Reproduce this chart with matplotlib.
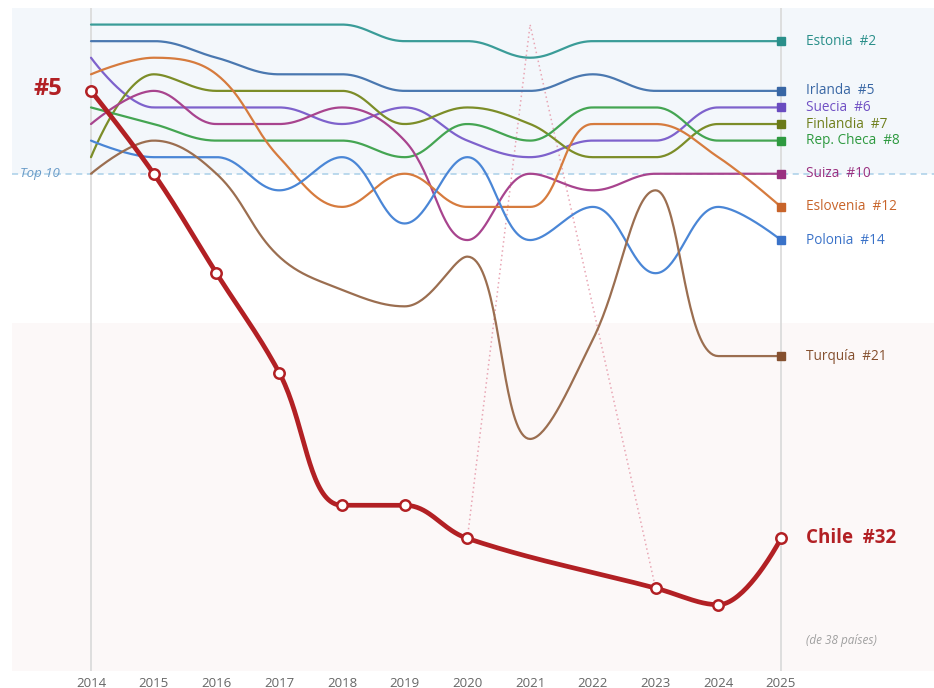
import numpy as np
import matplotlib
matplotlib.use("Agg")
import matplotlib.pyplot as plt

plt.rcParams['font.family'] = ['Open Sans', 'DejaVu Sans']

years = [2014, 2015, 2016, 2017, 2018, 2019, 2020, 2021, 2022, 2023, 2024, 2025]

estonia   = [1, 1, 1, 1, 1, 2, 2, 3, 2, 2, 2, 2]
irlanda   = [2, 2, 3, 4, 4, 5, 5, 5, 4, 5, 5, 5]
suecia    = [3, 6, 6, 6, 7, 6, 8, 9, 8, 8, 6, 6]
finlandia = [9, 4, 5, 5, 5, 7, 6, 7, 9, 9, 7, 7]
checa     = [6, 7, 8, 8, 8, 9, 7, 8, 6, 6, 8, 8]
suiza     = [7, 5, 7, 7, 6, 8, 14, 10, 11, 10, 10, 10]
eslovenia = [4, 3, 4, 9, 12, 10, 12, 12, 7, 7, 9, 12]
polonia   = [8, 9, 9, 11, 9, 13, 9, 14, 12, 16, 12, 14]
turquia   = [10, 8, 10, 15, 17, 18, 15, 26, 20, 11, 21, 21]
chile     = [5, 10, 16, 22, 30, 30, 32, None, None, 35, 36, 32]

dotted_years = [2020, 2021, 2023]
dotted_ranks = [32, 1, 35]

countries = [
    ("Estonia", estonia, "#3a9c98", "#2a8f8a", "#2a8f8a"),
    ("Irlanda", irlanda, "#4a78b0", "#3866a4", "#3866a4"),
    ("Suecia", suecia, "#7e62cc", "#6a4cc0", "#7050c4"),
    ("Finlandia", finlandia, "#7c8d28", "#6a7a18", "#6f7f1c"),
    ("Rep. Checa", checa, "#44a552", "#2e9a40", "#2e9a40"),
    ("Suiza", suiza, "#a8448e", "#9a3080", "#9a3080"),
    ("Eslovenia", eslovenia, "#d67b3e", "#c8642a", "#c8642a"),
    ("Polonia", polonia, "#4a86d6", "#3a72c8", "#3a72c8"),
    ("Turquía", turquia, "#9b6e50", "#85502f", "#85502f"),
]

PX_X = 62.727   # pixels per year
PX_Y = 16.575   # pixels per rank


def smooth_curve(xd, yd, smooth=0.38, n=40):
    """ECharts-like bezier smoothing computed in pixel space."""
    P = [(x * PX_X, y * PX_Y) for x, y in zip(xd, yd)]
    N = len(P)
    segs = []
    cp0 = P[0]
    for i in range(1, N):
        x, y = P[i]
        px, py = P[i - 1]
        if i == N - 1:
            cp1 = (x, y)
            ncp0 = None
        else:
            nx, ny = P[i + 1]
            vx, vy = nx - px, ny - py
            dx0, dy0 = x - px, y - py
            dx1, dy1 = nx - x, ny - y
            lp = np.hypot(dx0, dy0)
            ln = np.hypot(dx1, dy1)
            r = ln / (ln + lp)
            ncx = x + vx * smooth * r
            ncy = y + vy * smooth * r
            ncx = max(min(ncx, max(nx, x)), min(nx, x))
            ncy = max(min(ncy, max(ny, y)), min(ny, y))
            vx, vy = ncx - x, ncy - y
            c1x = x - vx * lp / ln
            c1y = y - vy * lp / ln
            c1x = max(min(c1x, max(px, x)), min(px, x))
            c1y = max(min(c1y, max(py, y)), min(py, y))
            vx, vy = x - c1x, y - c1y
            ncx = x + vx * ln / lp
            ncy = y + vy * ln / lp
            cp1 = (c1x, c1y)
            ncp0 = (ncx, ncy)
        t = np.linspace(0, 1, n)[:, None]
        p0 = np.array(P[i - 1]); a = np.array(cp0); b = np.array(cp1); p3 = np.array(P[i])
        pts = ((1 - t) ** 3) * p0 + 3 * ((1 - t) ** 2) * t * a + 3 * (1 - t) * t ** 2 * b + t ** 3 * p3
        segs.append(pts)
        cp0 = ncp0
    pts = np.vstack(segs)
    return pts[:, 0] / PX_X, pts[:, 1] / PX_Y


fig = plt.figure(figsize=(9.34, 6.88), dpi=100)
ax = fig.add_axes([12 / 934, 1 - 671 / 688, 1 - 12 / 934, (671 - 8) / 688])
ax.set_xlim(2014 - 79 / PX_X, 2025 + 153 / PX_X)
ax.set_ylim(40, 0)

# bands
ax.axhspan(0, 10, color="#f3f7fb", zorder=0, lw=0)
ax.axhspan(19, 40, color="#fcf8f8", zorder=0, lw=0)
ax.axhline(10, color="#a9cfe8", lw=1.1, ls=(0, (4, 3)), zorder=1)
for yv in (2014, 2025):
    ax.axvline(yv, color="#d9d9d9", lw=1.2, zorder=1)

for name, vals, lc, mc, tc in countries:
    xs, ys = smooth_curve(years, vals)
    ax.plot(xs, ys, color=lc, lw=1.6, zorder=3, solid_capstyle="round")
    ax.plot([years[-1]], [vals[-1]], marker="s", ms=6, color=mc, zorder=4)
    ax.annotate(f"{name}  #{vals[-1]}", xy=(years[-1], vals[-1]), xytext=(18, 0),
                textcoords="offset points", va="center", ha="left",
                color=tc, fontsize=9.8, zorder=5)

# dotted line
ax.plot(dotted_years, dotted_ranks, color="#e8a6b4", lw=1.1, ls=(0, (1, 2)), zorder=2)

# Chile
cx = [yv for yv, v in zip(years, chile) if v is not None]
cy = [v for v in chile if v is not None]
xs, ys = smooth_curve(cx, cy)
ax.plot(xs, ys, color="#b22024", lw=3.4, zorder=6, solid_capstyle="round")
ax.plot(cx, cy, ls="none", marker="o", ms=7.5, mfc="white", mec="#b22024", mew=1.8, zorder=7)

ax.annotate(f"Chile  #{chile[-1]}", xy=(2025, chile[-1]), xytext=(18, 0),
            textcoords="offset points", va="center", ha="left",
            color="#b22024", fontsize=13.5, fontweight="bold", zorder=8)
ax.annotate(f"#{chile[0]}", xy=(2014, chile[0]), xytext=(-31, 1),
            textcoords="offset points", va="center", ha="center",
            color="#b22024", fontsize=17, fontweight="bold", zorder=8)
ax.annotate("Top 10", xy=(2014, 10), xytext=(-37, 0),
            textcoords="offset points", va="center", ha="center",
            color="#6a9cc8", fontsize=9.5, style="italic", zorder=8)
ax.annotate("(de 38 países)", xy=(2025, 38), xytext=(18, -2),
            textcoords="offset points", va="center", ha="left",
            color="#a0a0a0", fontsize=8.5, style="italic", zorder=8)

ax.set_xticks(years)
ax.set_xticklabels([str(y) for y in years])
ax.tick_params(axis="x", length=0, pad=4, labelsize=9.5, labelcolor="#666666")
ax.set_yticks([])
for s in ax.spines.values():
    s.set_visible(False)

fig.savefig("out.png", dpi=100)
